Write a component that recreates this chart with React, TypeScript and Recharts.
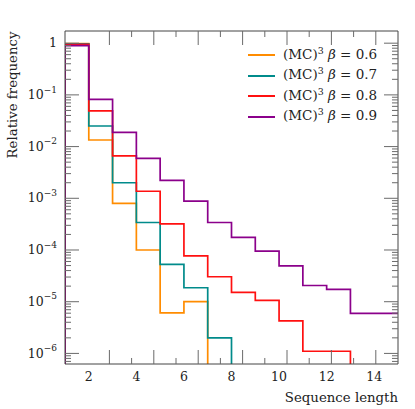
import React from 'react';
import { LineChart, Line, XAxis, YAxis, Legend, Label } from 'recharts';

const FONT = '"DejaVu Serif", serif';
const TEXT = '#222';
const AXIS = '#444';
const TICK = '#6a6a6a';

// Histogram bins start at these sequence lengths; the last bin ends at X_END
const SEQ_LENGTH = [1, 2, 3, 4, 5, 6, 7, 8, 9, 10, 11, 12, 13, 14];
const X_START = 1;
const X_END = 15;

// Relative frequency per bin (0 = no counts)
const FREQ_B06 = [0.985, 0.0134, 0.0008, 0.0001, 6.1e-6, 1.0e-5, 0, 0, 0, 0, 0, 0, 0, 0];
const FREQ_B07 = [0.972, 0.025, 0.002, 0.00034, 5.25e-5, 1.86e-5, 2.0e-6, 0, 0, 0, 0, 0, 0, 0];
const FREQ_B08 = [0.945, 0.049, 0.0066, 0.00137, 0.00032, 7.7e-5, 3.04e-5, 1.51e-5, 1.06e-5, 4.24e-6, 1.1e-6, 1.1e-6, 0, 0];
const FREQ_B09 = [0.895, 0.082, 0.0189, 0.0059, 0.00223, 0.00088, 3.4e-4, 1.75e-4, 9.5e-5, 4.95e-5, 2.06e-5, 1.73e-5, 5.95e-6, 5.95e-6];

const BETAS = ['0.6', '0.7', '0.8', '0.9'];
const KEYS = ['b06', 'b07', 'b08', 'b09'];
const SERIES = [FREQ_B06, FREQ_B07, FREQ_B08, FREQ_B09];
const COLORS = ['#ff8c00', '#008b8b', '#ff1010', '#8b008b'];

const X_MAJOR = [2, 4, 6, 8, 10, 12, 14];
const X_MINOR = [3, 5, 7, 9, 11, 13];
const Y_MAJOR = [1e-6, 1e-5, 1e-4, 1e-3, 1e-2, 1e-1, 1];
const Y_DOMAIN: [number, number] = [6.24e-7, 1.72];

// minor log ticks (2..9 x 10^k) inside the domain
const Y_MINOR: number[] = [];
for (let k = -7; k <= 0; k++) {
  for (let m = 2; m <= 9; m++) {
    const v = m * Math.pow(10, k);
    if (v >= Y_DOMAIN[0] && v <= Y_DOMAIN[1]) Y_MINOR.push(v);
  }
}

// zero counts are drawn below the visible log range (clipped)
const FLOOR = 1e-12;
const pos = (v: number) => (v > 0 ? v : FLOOR);

const data: any[] = [];
{
  const first: any = { x: X_START };
  KEYS.forEach((k) => (first[k] = FLOOR));
  data.push(first);
  SEQ_LENGTH.forEach((x, i) => {
    const row: any = { x };
    KEYS.forEach((k, s) => (row[k] = pos(SERIES[s][i])));
    data.push(row);
  });
  const last: any = { x: X_END };
  KEYS.forEach((k, s) => (last[k] = pos(SERIES[s][SEQ_LENGTH.length - 1])));
  data.push(last);
}

const EmptyTick = () => <g />;
const THIN = 0.01;

const YTick = (props: any) => {
  const { x, y, payload } = props;
  const exp = Math.round(Math.log10(payload.value));
  if (exp === 0) {
    return (
      <text x={x} y={y} dy={4.2} textAnchor="end" fontSize={12.5} fill={TEXT} fontFamily={FONT}>
        1
      </text>
    );
  }
  return (
    <text x={x} y={y} textAnchor="end" fontSize={12.5} fill={TEXT} fontFamily={FONT}>
      <tspan dy={4.2}>10</tspan>
      <tspan dy={-6.5} fontSize={9}>{'\u2212' + String(-exp)}</tspan>
    </text>
  );
};

const XLabel = (props: any) => {
  const vb = props.viewBox || {};
  return (
    <text x={vb.x + vb.width} y={vb.y + 37.5} textAnchor="end" fontSize={13.3} fill={TEXT} fontFamily={FONT}>
      Sequence length
    </text>
  );
};

const YLabel = (props: any) => {
  const vb = props.viewBox || {};
  const ax = 16.5;
  const ay = vb.y + 0.5;
  return (
    <text x={ax} y={ay} transform={`rotate(-90 ${ax} ${ay})`} textAnchor="end" fontSize={13.3} fill={TEXT} fontFamily={FONT}>
      Relative frequency
    </text>
  );
};

const LegendContent = () => (
  <div style={{ fontFamily: FONT, fontSize: 13.5, color: TEXT, lineHeight: '20.5px' }}>
    {BETAS.map((b, i) => (
      <div key={b} style={{ display: 'flex', alignItems: 'center', height: 20.5, whiteSpace: 'nowrap' }}>
        <span style={{ display: 'inline-block', width: 27, height: 0, borderTop: `2px solid ${COLORS[i]}`, marginRight: 8 }} />
        <span>
          (MC)
          <span style={{ fontSize: '0.7em', position: 'relative', top: '-0.55em' }}>3</span>
          {' '}
          <i>β</i> = {b}
        </span>
      </div>
    ))}
  </div>
);

export default function App() {
  return (
    <div style={{ position: 'absolute', left: 0, top: 0, width: 415, height: 409, background: '#fff', fontFamily: FONT }}>
      <LineChart width={415} height={409} data={data} margin={{ top: 31, right: 17, bottom: 0, left: 0 }}>
        {/* bottom axis with labels */}
        <XAxis
          xAxisId="bl"
          dataKey="x"
          type="number"
          domain={[X_START, X_END]}
          allowDataOverflow
          ticks={X_MAJOR}
          interval={0}
          height={45}
          tickLine={false}
          tickSize={0}
          tickMargin={8}
          axisLine={{ stroke: AXIS }}
          tick={{ fill: TEXT, fontSize: 12.5, fontFamily: FONT }}
          label={<Label content={XLabel} />}
        />
        {/* inward ticks bottom */}
        <XAxis xAxisId="bmaj" type="number" orientation="bottom" mirror height={THIN} domain={[X_START, X_END]} allowDataOverflow ticks={X_MAJOR} interval={0} tick={EmptyTick} tickSize={14} tickLine={{ stroke: TICK }} axisLine={false} />
        <XAxis xAxisId="bmin" type="number" orientation="bottom" mirror height={THIN} domain={[X_START, X_END]} allowDataOverflow ticks={X_MINOR} interval={0} tick={EmptyTick} tickSize={6} tickLine={{ stroke: TICK }} axisLine={false} />
        {/* top frame */}
        <XAxis xAxisId="tmaj" type="number" orientation="top" mirror height={THIN} domain={[X_START, X_END]} allowDataOverflow ticks={X_MAJOR} interval={0} tick={EmptyTick} tickSize={14} tickLine={{ stroke: TICK }} axisLine={{ stroke: AXIS }} />
        <XAxis xAxisId="tmin" type="number" orientation="top" mirror height={THIN} domain={[X_START, X_END]} allowDataOverflow ticks={X_MINOR} interval={0} tick={EmptyTick} tickSize={6} tickLine={{ stroke: TICK }} axisLine={false} />

        {/* left axis with labels */}
        <YAxis
          yAxisId="yl"
          type="number"
          scale="log"
          domain={Y_DOMAIN}
          allowDataOverflow
          ticks={Y_MAJOR}
          interval={0}
          width={65}
          tickLine={false}
          tickSize={0}
          tickMargin={8}
          axisLine={{ stroke: AXIS }}
          tick={<YTick />}
          label={<Label content={YLabel} />}
        />
        <YAxis yAxisId="lmaj" type="number" scale="log" orientation="left" mirror width={THIN} domain={Y_DOMAIN} allowDataOverflow ticks={Y_MAJOR} interval={0} tick={EmptyTick} tickSize={14} tickLine={{ stroke: TICK }} axisLine={false} />
        <YAxis yAxisId="lmin" type="number" scale="log" orientation="left" mirror width={THIN} domain={Y_DOMAIN} allowDataOverflow ticks={Y_MINOR} interval={0} tick={EmptyTick} tickSize={6} tickLine={{ stroke: TICK }} axisLine={false} />
        <YAxis yAxisId="rmaj" type="number" scale="log" orientation="right" mirror width={THIN} domain={Y_DOMAIN} allowDataOverflow ticks={Y_MAJOR} interval={0} tick={EmptyTick} tickSize={14} tickLine={{ stroke: TICK }} axisLine={{ stroke: AXIS }} />
        <YAxis yAxisId="rmin" type="number" scale="log" orientation="right" mirror width={THIN} domain={Y_DOMAIN} allowDataOverflow ticks={Y_MINOR} interval={0} tick={EmptyTick} tickSize={6} tickLine={{ stroke: TICK }} axisLine={false} />

        {KEYS.map((k, i) => (
          <Line
            key={k}
            xAxisId="bl"
            yAxisId="yl"
            type="stepAfter"
            dataKey={k}
            name={`(MC)3 β = ${BETAS[i]}`}
            stroke={COLORS[i]}
            strokeWidth={1.7}
            dot={false}
            activeDot={false}
            isAnimationActive={false}
          />
        ))}

        <Legend
          layout="horizontal"
          verticalAlign="middle"
          align="center"
          content={LegendContent}
          wrapperStyle={{ left: 248, top: 44.75, width: 'auto', height: 'auto', transform: 'none' }}
        />
      </LineChart>
    </div>
  );
}
